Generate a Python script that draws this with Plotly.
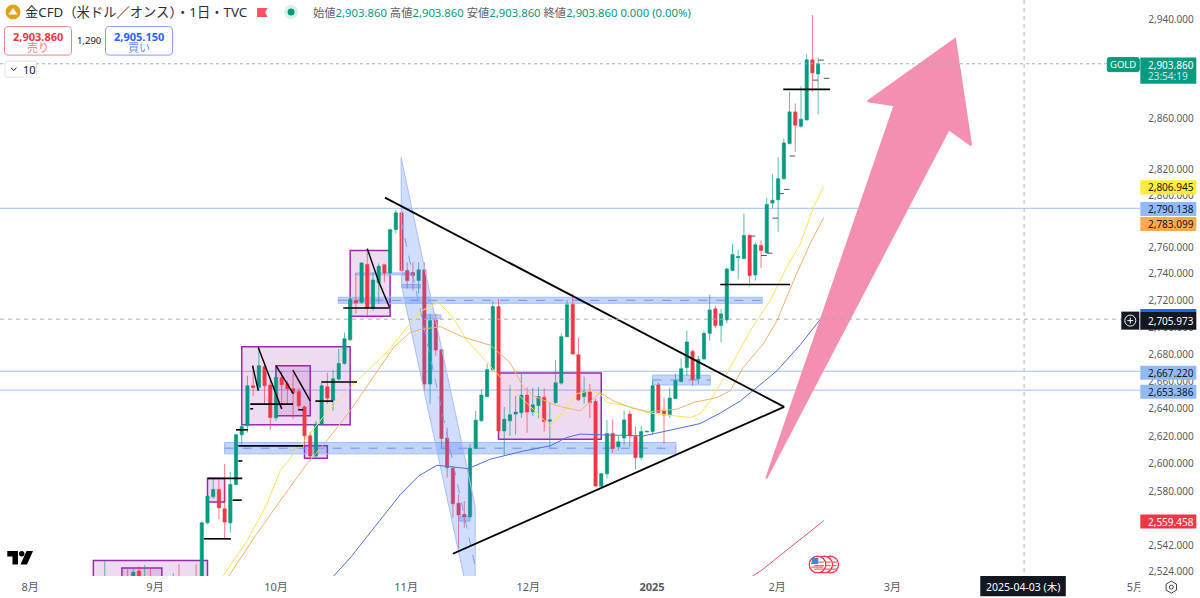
import math
import plotly.graph_objects as go

# bars: one position per trading day, position 0 is early August 2024
bar_idx = [5, 9, 10, 11, 12, 13, 17, 18, 21] + list(range(22, 131))
opens = [2507, 2515, 2507, 2524, 2507, 2515, 2507, 2515, 2515,
    2512, 2557.9, 2576.4, 2581.6, 2567.8, 2557.9, 2585.2, 2620.9, 2627.4, 2656.6,
    2655.4, 2670.7, 2657.2, 2633.2, 2662.5, 2658.1, 2654.5, 2652.5, 2641.2, 2620.1,
    2605.6, 2628.6, 2655.9, 2646.1, 2661.6, 2673.1, 2690.6, 2719.9, 2718.6, 2747.2,
    2714.4, 2733.3, 2747.0, 2740.8, 2773.9, 2786.7, 2742.6, 2741.1, 2735.0, 2743.1,
    2657.9, 2705.4, 2683.2, 2618.5, 2596.7, 2571.7, 2563.9, 2562.2, 2610.9, 2631.0,
    2648.7, 2668.4, 2715.4, 2623.7, 2631.0, 2635.9, 2636.9, 2649.8, 2637.6, 2642.2,
    2648.3, 2630.8, 2644.4, 2658.6, 2692.9, 2716.9, 2679.5, 2648.7, 2652.3, 2645.1,
    2583.8, 2592.8, 2621.8, 2612.2, 2618.5, 2635.9, 2619.6, 2604.4, 2623.0, 2623.2,
    2657.2, 2638.1, 2635.4, 2647.3, 2659.8, 2670.1, 2682.0, 2661.8, 2676.4, 2695.4,
    2713.7, 2701.2, 2705.4, 2742.6, 2752.3, 2751.7, 2769.3, 2739.3, 2761.7, 2756.1,
    2794.2, 2796.8, 2813.1, 2840.5, 2865.5, 2854.2, 2859.1, 2907.0, 2895.7]
highs = [2530.9, 2525.3, 2525.3, 2527.4, 2528.1, 2526, 2522.5, 2528.8, 2528.8,
    2559.1, 2578.2, 2589.0, 2589.0, 2599.8, 2594.1, 2621.6, 2628.8, 2664.0, 2671.4,
    2684.7, 2672.9, 2662.5, 2671.4, 2667.7, 2660.3, 2665.5, 2655.2, 2642.0, 2623.0,
    2631.0, 2660.3, 2666.2, 2668.4, 2683.9, 2695.9, 2722.2, 2740.3, 2748.9, 2759.4,
    2741.3, 2747.9, 2747.2, 2774.7, 2789.0, 2789.3, 2748.7, 2748.7, 2748.9, 2748.9,
    2710.1, 2710.1, 2683.9, 2626.1, 2598.4, 2578.2, 2573.3, 2614.3, 2638.3, 2654.2,
    2673.1, 2719.4, 2721.2, 2641.2, 2657.4, 2649.3, 2665.3, 2655.4, 2655.2, 2655.9,
    2654.9, 2644.4, 2675.6, 2695.4, 2720.4, 2725.0, 2691.9, 2663.3, 2657.9, 2647.1,
    2593.6, 2631.5, 2632.2, 2620.1, 2638.3, 2638.3, 2626.9, 2627.4, 2623.7, 2660.3,
    2659.1, 2648.0, 2655.4, 2665.5, 2676.8, 2697.4, 2683.2, 2678.8, 2697.4, 2724.2,
    2716.1, 2713.7, 2744.6, 2763.0, 2758.4, 2786.0, 2770.1, 2764.2, 2765.5, 2798.4,
    2816.5, 2830.0, 2844.4, 2881.4, 2872.2, 2886.0, 2911.4, 2943.3, 2909.0]
lows = [2506, 2506, 2506, 2506, 2506, 2506, 2506, 2506, 2506,
    2508, 2557.0, 2574.7, 2560.5, 2547.1, 2550.9, 2584.7, 2612.9, 2622.5, 2649.3,
    2653.0, 2643.4, 2624.5, 2631.0, 2639.8, 2643.4, 2632.5, 2639.8, 2612.9, 2604.2,
    2603.4, 2627.4, 2643.4, 2638.3, 2660.3, 2672.1, 2689.9, 2710.1, 2717.6, 2708.6,
    2712.4, 2717.6, 2733.7, 2740.3, 2770.9, 2741.1, 2729.0, 2727.5, 2725.2, 2653.0,
    2643.4, 2678.8, 2611.6, 2590.0, 2561.4, 2539.2, 2554.4, 2561.4, 2610.7, 2630.5,
    2648.0, 2667.7, 2622.5, 2605.6, 2620.1, 2620.9, 2633.0, 2622.3, 2634.7, 2633.0,
    2623.2, 2611.6, 2643.2, 2657.4, 2692.4, 2679.5, 2645.6, 2643.6, 2633.0, 2583.5,
    2583.3, 2589.5, 2608.0, 2609.8, 2613.6, 2612.2, 2596.0, 2602.5, 2622.7, 2620.9,
    2636.4, 2614.5, 2633.0, 2646.8, 2659.1, 2664.0, 2656.6, 2657.9, 2675.8, 2689.9,
    2699.1, 2688.7, 2702.9, 2742.1, 2735.8, 2751.2, 2730.5, 2735.0, 2744.6, 2755.8,
    2790.3, 2771.9, 2812.6, 2840.0, 2834.0, 2852.9, 2858.9, 2881.4, 2863.4]
closes = [2510, 2507, 2523.2, 2507, 2512, 2507, 2512, 2507, 2507,
    2557.9, 2576.8, 2581.6, 2568.5, 2558.4, 2585.2, 2620.9, 2626.9, 2656.6, 2655.4,
    2671.4, 2656.6, 2633.4, 2662.7, 2657.4, 2654.5, 2651.5, 2642.0, 2620.1, 2605.6,
    2628.6, 2656.6, 2647.6, 2661.8, 2673.1, 2691.4, 2720.7, 2718.2, 2748.4, 2714.4,
    2735.5, 2745.9, 2740.8, 2773.7, 2786.7, 2742.6, 2735.0, 2738.8, 2743.1, 2657.9,
    2704.9, 2683.0, 2618.2, 2597.2, 2571.4, 2563.4, 2562.2, 2611.2, 2631.5, 2649.8,
    2668.4, 2715.4, 2623.7, 2632.2, 2635.4, 2637.4, 2649.8, 2637.4, 2642.7, 2648.7,
    2630.5, 2631.7, 2658.8, 2692.9, 2716.7, 2680.1, 2646.3, 2652.3, 2644.4, 2584.0,
    2592.8, 2621.8, 2610.9, 2615.8, 2631.7, 2620.1, 2604.4, 2623.2, 2623.4, 2656.6,
    2637.1, 2635.2, 2647.6, 2660.3, 2669.2, 2689.0, 2661.3, 2676.1, 2695.4, 2712.9,
    2701.2, 2709.9, 2743.8, 2754.8, 2753.3, 2769.3, 2738.8, 2762.2, 2757.9, 2793.2,
    2796.3, 2813.1, 2841.0, 2865.5, 2855.0, 2859.7, 2907.0, 2896.6, 2903.86]

# moving averages at the bends
yellow_x = [25.7, 29.9, 33.4, 35.7, 40.4, 43.9, 48, 54.7, 58.5, 60.6, 63.5, 66, 68.5, 72.5, 74.9, 80.7, 83, 85.4,
    87.7, 90.1, 91.8, 93, 96.5, 100, 105.3, 107.6, 109.3, 111.1, 114.6, 118.1, 121.6, 124.5, 126.9, 129.2, 131]
yellow_y = [2520.5, 2545, 2571.2, 2594.8, 2618.9, 2637, 2655.4, 2682.5, 2702.7, 2712.4, 2718.6, 2707.4, 2689.9, 2671.4,
    2660.3, 2637, 2627.4, 2638.3, 2650.8, 2653, 2650.6, 2644.4, 2642, 2637, 2634.7, 2633.4, 2636.1, 2645.6, 2670.1,
    2697.4, 2719.9, 2745.1, 2763, 2791.1, 2806.945]
orange_x = [26.7, 31.6, 35.7, 40.4, 43.9, 48, 55.6, 58.5, 60.3, 63.8, 67.9, 72.5, 76, 78.4, 80.1, 84.2, 88.3, 91.8,
    94.1, 97.1, 100.3, 105.3, 108.2, 112.3, 114.6, 116.9, 120.4, 122.8, 125.7, 128.6, 131]
orange_y = [2520.5, 2549.9, 2573.3, 2599.8, 2616.5, 2638.3, 2684.9, 2696.1, 2698.2, 2700.4, 2692.4, 2686.7, 2673.8,
    2655.4, 2649.3, 2642, 2638.3, 2651.7, 2645.6, 2640.7, 2637.6, 2639.6, 2644.4, 2648, 2653, 2670.1, 2687.7, 2704.9,
    2735, 2763, 2783.099]
blue_x = [45.1, 48, 52.4, 56.8, 60, 63.2, 68.7, 72.5, 78.4, 83.1, 85.9, 88.3, 91.8, 99.4, 103.5, 109.3, 112.9, 116.4,
    122.8, 126.9, 130.4]
blue_y = [2520.5, 2533.2, 2555.5, 2578, 2591.2, 2598.9, 2596.5, 2603.2, 2609.2, 2612.9, 2618.9, 2621.4, 2620.9,
    2620.1, 2623.7, 2629, 2636.8, 2645.6, 2667.7, 2687, 2705.973]
red_x = [118.5, 119.9, 122.8, 126.9, 131]
red_y = [2520.5, 2524, 2533.2, 2546.2, 2559.458]

# axis labels
month_pos = [-8.1, 13.8, 35, 57.8, 79.2, 100.9, 122.8, 143, 185.6]
month_labels = ["8月", "9月", "10月", "11月", "12月", "<b>2025</b>", "2月", "3月", "5月"]
price_ticks = [2940, 2860, 2820, 2800, 2760, 2740, 2720, 2700, 2680, 2660, 2640, 2620, 2600, 2580, 2542, 2524]

# drawings on the chart: (start bar, end bar, upper price, lower price)
purple_boxes = [(3, 23, 2531.4, 2510), (8, 15, 2526.2, 2510), (23, 26, 2589.5, 2572.6), (29, 48, 2685.4, 2628.1),
    (35, 41, 2671.4, 2634.7), (40, 44, 2612.9, 2604), (48, 55, 2757.9, 2708.1), (74, 92, 2666, 2617.7)]
blue_zones = [(45.9, 120.2, 2722.4, 2717.9), (26, 105.1, 2615.3, 2607.1), (101, 111.1, 2664.5, 2657.2),
    (48.9, 59, 2740.8, 2739.3), (57, 60.3, 2732, 2729.5), (60.7, 63.9, 2709.2, 2706.2), (67.2, 69, 2562.6, 2559.1)]
# (start bar, end bar, price)
black_levels = [(22.4, 27.1, 2546.6), (27.4, 29, 2574), (23, 29.1, 2589.5), (28.4, 29.1, 2602), (28.4, 39.75, 2612.9),
    (28, 30.1, 2624.5), (30.5, 31, 2639.8), (30.5, 38, 2643.2), (38.9, 39.75, 2639.1), (41.9, 45, 2645.4),
    (43, 49.2, 2659.4), (46.8, 54.9, 2714.4), (112.85, 125.1, 2732), (123.9, 132.1, 2883.4)]
small_ticks = [(131, 132, 2892.2), (129, 130, 2890.8), (130, 131, 2906.8), (125, 126, 2830.8), (124, 125, 2804.8),
    (122, 123, 2782.6), (123, 124, 2801.5), (120, 121, 2754), (121, 122, 2755.8), (118, 119, 2768.8)]
# (bar, price, bar, price)
black_lines = [(31.9, 2684.9, 36, 2639.6), (30.9, 2671.4, 31.9, 2653), (35, 2671.4, 38.05, 2650.6),
    (37.95, 2668.2, 41, 2645.6), (51, 2759.2, 53, 2734.2), (53, 2734.2, 54.9, 2714.9),
    (54.1, 2798.4, 124.06, 2641.2), (66, 2536.1, 124.06, 2641.2)]
channel_x = [56.93, 69.9, 69.9, 68.3, 57, 56.93]
channel_y = [2829.5, 2569.7, 2513.5, 2513.5, 2731.2, 2829.5]
channel_mid_x = [56.93, 69.9]
channel_mid_y = [2780.8, 2527.4]
arrow_x = [120.9, 143.4, 138.7, 154, 156.8, 152.9, 120.9]
arrow_y = [2589.3, 2870.8, 2874, 2923.8, 2839.2, 2851.8, 2589.3]

GREEN = "#089981"
RED = "#f23645"
BLUE_TAG = "#90b9f8"
DARK = "#131722"
FONT = "Noto Sans, Noto Sans CJK JP, sans-serif"
W, H = 1200, 598
# the photographed picture comes out slightly smaller than the page, this makes up for it
FIT = 0.9964
PLOT_R = 1140
PLOT_B = 575
X_MIN, X_MAX = -13.36, 186.46
Y_MIN, Y_MAX = 2520.5, 2955.5


def px(x):
    return x / (W * FIT)


def py(y):
    return 1 - y / (H * FIT)


shapes = []
annots = []


def data_line(x0, y0, x1, y1, color, width=1.0, dash="solid", layer="above"):
    shapes.append(dict(type="line", xref="x", yref="y", x0=x0, y0=y0, x1=x1, y1=y1, layer=layer,
                       line=dict(color=color, width=width, dash=dash)))


def data_rect(x0, x1, y0, y1, fill, line_color, width=1.0):
    shapes.append(dict(type="rect", xref="x", yref="y", x0=x0, x1=x1, y0=y0, y1=y1, layer="below",
                       fillcolor=fill, line=dict(color=line_color, width=width)))


def page_rect(x0, y0, x1, y1, fill, line_color=None, width=0):
    shapes.append(dict(type="rect", xref="paper", yref="paper", x0=px(x0), x1=px(x1), y0=py(y0), y1=py(y1),
                       layer="above", fillcolor=fill, line=dict(color=line_color or fill, width=width)))


def page_path(points, fill, line_color=None, width=0, close=True):
    d = "M" + " L".join(f"{px(x):.5f},{py(y):.5f}" for x, y in points) + (" Z" if close else "")
    shapes.append(dict(type="path", xref="paper", yref="paper", path=d, layer="above",
                       fillcolor=fill, line=dict(color=line_color or fill, width=width)))


def page_circle(cx, cy, r, fill, line_color=None, width=0):
    shapes.append(dict(type="circle", xref="paper", yref="paper", x0=px(cx - r), x1=px(cx + r),
                       y0=py(cy - r), y1=py(cy + r), layer="above", fillcolor=fill,
                       line=dict(color=line_color or fill, width=width)))


def round_box(x0, y0, x1, y1, color, r=4):
    d = (f"M{px(x0 + r):.5f},{py(y0):.5f} L{px(x1 - r):.5f},{py(y0):.5f} "
         f"Q{px(x1):.5f},{py(y0):.5f} {px(x1):.5f},{py(y0 + r):.5f} L{px(x1):.5f},{py(y1 - r):.5f} "
         f"Q{px(x1):.5f},{py(y1):.5f} {px(x1 - r):.5f},{py(y1):.5f} L{px(x0 + r):.5f},{py(y1):.5f} "
         f"Q{px(x0):.5f},{py(y1):.5f} {px(x0):.5f},{py(y1 - r):.5f} L{px(x0):.5f},{py(y0 + r):.5f} "
         f"Q{px(x0):.5f},{py(y0):.5f} {px(x0 + r):.5f},{py(y0):.5f} Z")
    shapes.append(dict(type="path", xref="paper", yref="paper", path=d, layer="above",
                       fillcolor="white", line=dict(color=color, width=1)))


def text(x, y, s, size=11, color="#131722", anchor="left"):
    annots.append(dict(xref="paper", yref="paper", x=px(x), y=py(y), text=s, showarrow=False, xanchor=anchor,
                       yanchor="middle", borderpad=0, font=dict(size=size, color=color, family=FONT)))


# things below the candles
for lvl in [2790.138, 2667.22, 2653.386]:
    data_line(X_MIN, lvl, X_MAX, lvl, "#b4cbf7", 1.2, layer="below")
for b0, b1, top, bot in purple_boxes:
    data_rect(b0, b1, top, bot, "rgba(156,39,176,0.17)", "#9c27b0", 1.5)
for b0, b1, top, bot in blue_zones:
    data_rect(b0, b1, top, bot, "rgba(41,98,255,0.28)", "#9dbdf7", 1)
    mid = (top + bot) / 2
    if top - bot > 4:
        data_line(b0, mid, b1, mid, "#6f8ff0", 1, "dash", "below")

# things on top of the candles
for b0, b1, p in black_levels:
    data_line(b0, p, b1, p, "#000000", 1.6)
for b0, b1, p in small_ticks:
    data_line(b0, p, b1, p, "#555555", 1)
for b0, p0, b1, p1 in black_lines:
    data_line(b0, p0, b1, p1, "#000000", 1.8 if b1 - b0 > 10 else 1.4)
data_line(X_MIN, 2903.86, X_MAX, 2903.86, "#7fc7ba", 1, "dot")
data_line(X_MIN, 2705.973, X_MAX, 2705.973, "#a8abb2", 1, "4px,4px")
data_line(166.1, Y_MAX, 166.1, Y_MIN, "#b4b7bd", 1, "4px,4px")

# header
page_circle(13, 12, 7.5, "#e0a21c")
page_path([(8.5, 14.5), (17.5, 14.5), (13, 8)], "#ffffff")
text(23.5, 12, "金CFD（米ドル／オンス）・1日・TVC", 13.3, "#2a2e39")
page_path([(257, 8), (267.5, 8), (265, 12.5), (267.5, 17), (257, 17)], "#f7525f")
page_circle(291, 12, 7, "#d9f0ec")
page_circle(291, 12, 3.5, GREEN)
vals = " ".join(f'<span style="color:#5d606b">{k}</span><span style="color:{GREEN}">2,903.860</span>'
                for k in ["始値", "高値", "安値", "終値"])
text(312, 12, vals + f' <span style="color:{GREEN}">0.000 (0.00%)</span>', 11.3)

# buy and sell boxes
round_box(4.5, 26.5, 71.5, 55, "#f2818b")
text(38, 36, "<b>2,903.860</b>", 11, RED, "center")
text(38, 47.5, "売り", 11, "#f47a85", "center")
text(89, 40, "1,290", 9.5, "#131722", "center")
round_box(105.5, 26.5, 172.5, 55, "#7d9bf5")
text(139, 36, "<b>2,905.150</b>", 11, "#2962ff", "center")
text(139, 47.5, "買い", 11, "#6e8ff5", "center")
round_box(5, 61, 36.5, 77, "#e0e3eb", 2)
page_path([(11, 67.5), (13.7, 70.5), (16.4, 67.5)], "rgba(0,0,0,0)", "#131722", 1, close=False)
text(22, 69, "10", 11, "#131722")

# TradingView mark
page_path([(7.3, 550), (18, 550), (18, 563.3), (12.5, 563.3), (12.5, 555.5), (7.3, 555.5)], "#000000")
page_circle(21.7, 552.7, 2.7, "#000000")
page_path([(26.5, 550), (33, 550), (27, 563.3), (20.5, 563.3)], "#000000")

# event icons
for cx in [830, 824, 817.3]:
    page_circle(cx, 563.5, 8.3, "#ffffff", RED, 1.3)
    for dy in [-2.5, 1, 4.5]:
        page_path([(cx - 3, 563.5 + dy), (cx + 6.5, 563.5 + dy)], "rgba(0,0,0,0)", "#f4606c", 1.2, close=False)
page_path([(812, 557), (818, 557), (818, 563), (811, 563)], "#4d7fe0")
page_path([(811, 566), (823, 566)], "rgba(0,0,0,0)", "#f4606c", 1.2, close=False)

# hides the 5月 label where the price scale starts
page_rect(PLOT_R, 578, W * FIT, H * FIT, "#ffffff")
page_path([(1171, 580), (1176.2, 583), (1176.2, 589), (1171, 592), (1165.8, 589), (1165.8, 583)],
          "rgba(0,0,0,0)", "#3c404a", 1)
page_circle(1171, 586, 2, "rgba(0,0,0,0)", "#3c404a", 1)

# price tags
round_box(1107, 57.5, 1139, 71.5, GREEN, 2)
shapes[-1]["fillcolor"] = GREEN
text(1123, 64.5, "GOLD", 9.5, "#ffffff", "center")
page_rect(1140, 57.5, 1196, 83.5, GREEN)
text(1146.5, 64.5, "2,903.860", 10, "#ffffff")
text(1146.5, 76, "23:54:19", 10, "#c6ebe5")
tag_y = [187, 208.5, 223.5, 372, 391, 520.5]
tag_text = ["2,806.945", "2,790.138", "2,783.099", "2,667.220", "2,653.386", "2,559.458"]
tag_bg = ["#ffeb3b", BLUE_TAG, "#ffa94d", BLUE_TAG, BLUE_TAG, RED]
tag_fg = [DARK, DARK, DARK, DARK, DARK, "#ffffff"]
for y, t, bg, fg in zip(tag_y, tag_text, tag_bg, tag_fg):
    page_rect(1140, y - 7, 1196, y + 7, bg)
    text(1146.5, y, t, 10, fg)
page_rect(1140, 308.3, 1196, 311, "#2962ff")
page_rect(1140, 311, 1196, 329, DARK)
text(1146.5, 320, "2,705.973", 10, "#ffffff")
page_rect(1121, 311, 1139, 329, DARK)
page_circle(1130, 320, 5.5, DARK, "#ffffff", 1)
page_path([(1127, 320), (1133, 320)], "rgba(0,0,0,0)", "#ffffff", 1, close=False)
page_path([(1130, 317), (1130, 323)], "rgba(0,0,0,0)", "#ffffff", 1, close=False)
page_rect(980, 575, 1065.5, 595, DARK)
text(1023, 585.5, "2025-04-03 (木)", 10.5, "#ffffff", "center")

fig = go.Figure()
fig.add_trace(go.Scatter(x=channel_x, y=channel_y, mode="lines", fill="toself", fillcolor="rgba(66,120,245,0.25)",
                         line=dict(color="#a6c0f5", width=1), hoverinfo="skip"))
fig.add_trace(go.Scatter(x=channel_mid_x, y=channel_mid_y, mode="lines", line=dict(color="#7f9ef0", width=1, dash="dash"),
                         hoverinfo="skip"))
fig.add_trace(go.Candlestick(x=bar_idx, open=opens, high=highs, low=lows, close=closes,
                             increasing=dict(fillcolor=GREEN, line=dict(color="rgba(8,153,129,0.65)", width=1)),
                             decreasing=dict(fillcolor=RED, line=dict(color="rgba(242,54,69,0.65)", width=1)),
                             whiskerwidth=0, hoverinfo="skip"))
for xs, ys, col in [(yellow_x, yellow_y, "#fbe45a"), (orange_x, orange_y, "#f6b26b"),
                    (blue_x, blue_y, "#4f6fe0"), (red_x, red_y, "#e8566a")]:
    fig.add_trace(go.Scatter(x=xs, y=ys, mode="lines", line=dict(color=col, width=1), hoverinfo="skip"))
fig.add_trace(go.Scatter(x=arrow_x, y=arrow_y, mode="lines", fill="toself", fillcolor="#f48fb1",
                         line=dict(color="#f48fb1", width=2), hoverinfo="skip"))

fig.update_layout(
    width=W, height=H, margin=dict(l=0, r=0, t=0, b=0), showlegend=False,
    paper_bgcolor="white", plot_bgcolor="white", boxgap=0.2,
    font=dict(family=FONT), shapes=shapes, annotations=annots,
    xaxis=dict(domain=[0, px(PLOT_R)], range=[X_MIN, X_MAX], showgrid=False, zeroline=False, showline=False,
               tickmode="array", tickvals=month_pos, ticktext=month_labels, ticks="outside", ticklen=1,
               tickcolor="white", tickfont=dict(size=11, color="#555b66", family=FONT),
               rangeslider=dict(visible=False), fixedrange=True),
    yaxis=dict(domain=[py(PLOT_B), 1], type="log", side="right",
               range=[math.log10(Y_MIN), math.log10(Y_MAX)], showgrid=False, zeroline=False, showline=False,
               tickmode="array", tickvals=price_ticks, tickformat=",.3f", ticks="outside", ticklen=5,
               tickcolor="white", tickfont=dict(size=10, color="#555b66", family=FONT), fixedrange=True),
)

fig.write_html("out.html", config=dict(displayModeBar=False), post_script="document.body.style.margin='0';")
